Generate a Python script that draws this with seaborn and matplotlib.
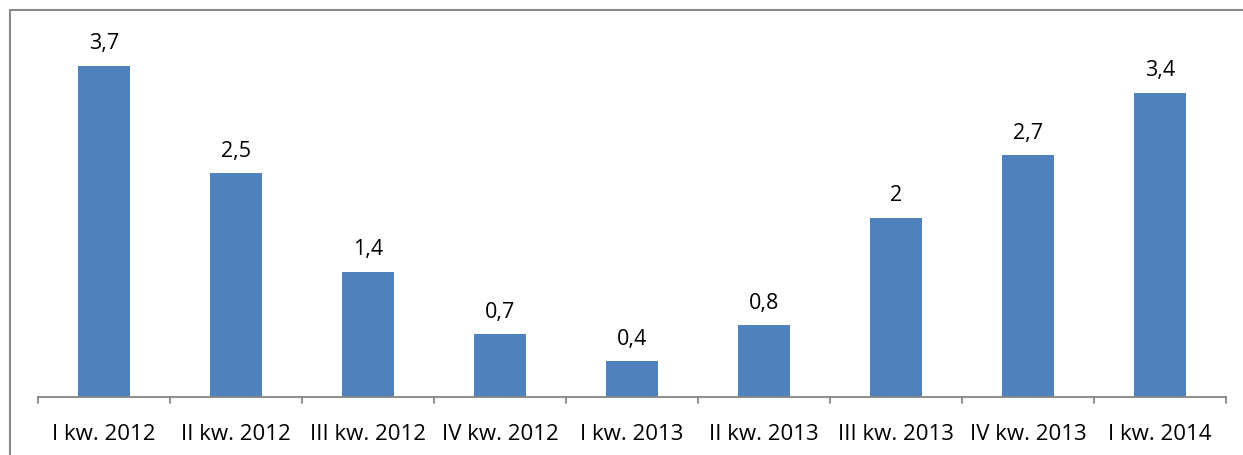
import matplotlib
matplotlib.use("Agg")
import matplotlib.pyplot as plt
import seaborn as sns
import pandas as pd
from matplotlib.lines import Line2D

categories = ["I kw. 2012", "II kw. 2012", "III kw. 2012", "IV kw. 2012", "I kw. 2013",
              "II kw. 2013", "III kw. 2013", "IV kw. 2013", "I kw. 2014"]
values = [3.7, 2.5, 1.4, 0.7, 0.4, 0.8, 2.0, 2.7, 3.4]
value_labels = ["3,7", "2,5", "1,4", "0,7", "0,4", "0,8", "2", "2,7", "3,4"]

sns.set_theme(style="white")
plt.rcParams['font.family'] = ['Open Sans', 'DejaVu Sans']

W, H = 1243, 456
fig = plt.figure(figsize=(W / 100, H / 100), dpi=100)
ax_left, ax_right, ax_bottom, ax_top = 38, 1226, 398, 40
ax = fig.add_axes([ax_left / W, 1 - ax_bottom / H, (ax_right - ax_left) / W, (ax_bottom - ax_top) / H])

df = pd.DataFrame({"cat": categories, "val": values})
sns.barplot(data=df, x="cat", y="val", color="#4F81BD", saturation=1, width=0.40,
            linewidth=0, ax=ax)

ax.set_ylim(0, 4.0)
ax.set_xlim(-0.5, len(categories) - 0.5)
for c in ax.containers:
    ax.bar_label(c, labels=value_labels, padding=9, fontsize=15.5, color="black")

for s in ["top", "right", "left"]:
    ax.spines[s].set_visible(False)
ax.spines["bottom"].set_color("#868686")
ax.spines["bottom"].set_linewidth(1.3)
ax.set_yticks([])
ax.set_xlabel("")
ax.set_ylabel("")
ax.set_xticks(range(len(categories)))
ax.set_xticklabels(categories, fontsize=16, color="black")
ax.tick_params(axis="x", length=0, pad=19)
# boundary tick marks
for b in [i - 0.5 for i in range(len(categories) + 1)]:
    ax.plot([b, b], [0, -0.065], color="#868686", lw=1.3, clip_on=False, transform=ax.transData)

# outer frame (cropped on right/bottom)
fig.add_artist(Line2D([9.5 / W, 9.5 / W], [0, 1 - 11 / H], transform=fig.transFigure, color="#898989", lw=1.5))
fig.add_artist(Line2D([9.5 / W, 1], [1 - 11 / H, 1 - 11 / H], transform=fig.transFigure, color="#898989", lw=1.5))

fig.savefig("out.png", dpi=100)
